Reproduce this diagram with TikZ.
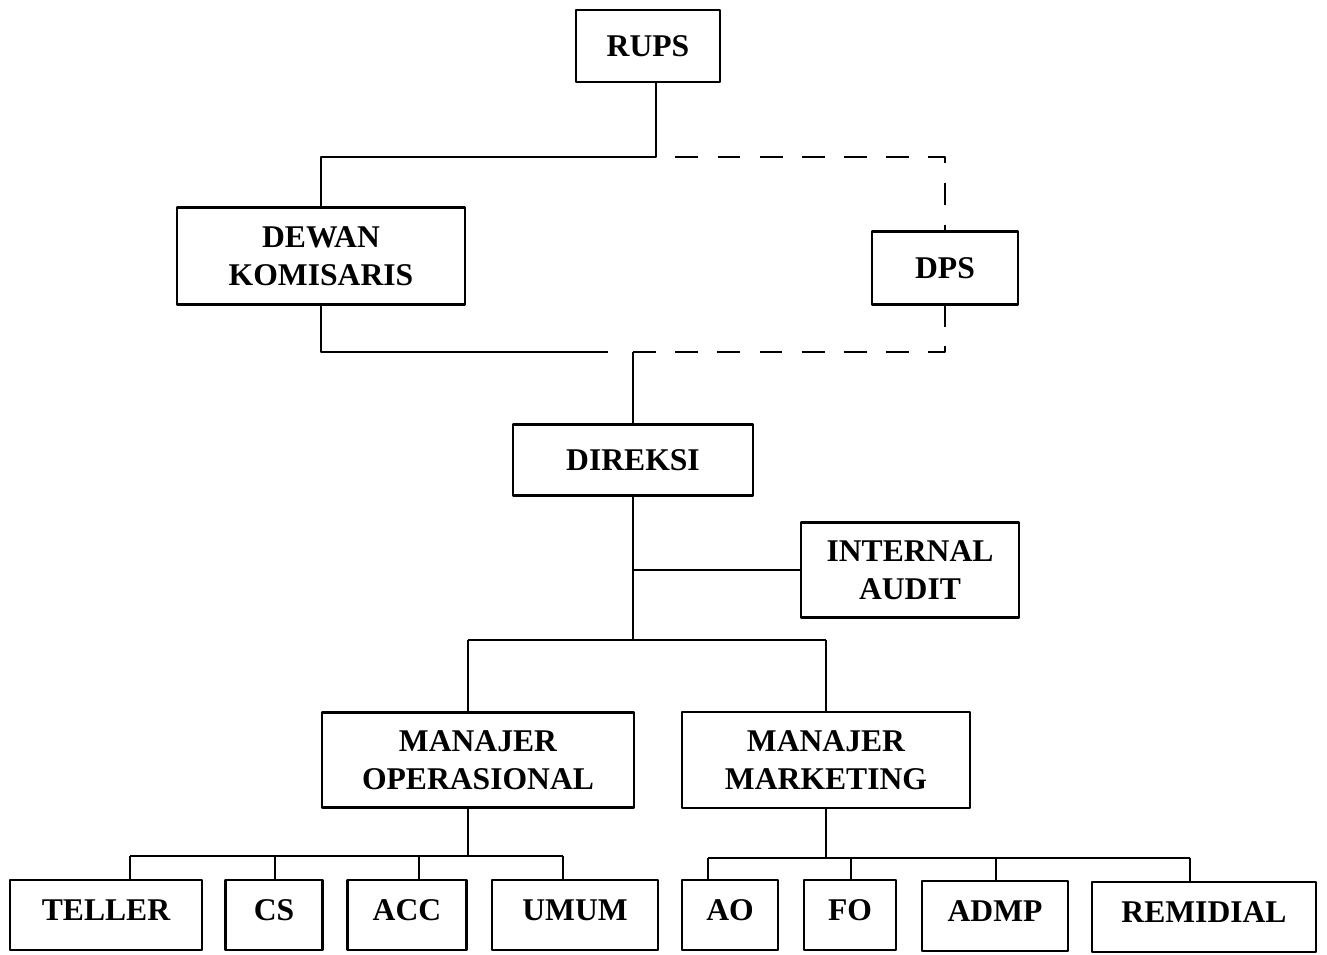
\documentclass[tikz,border=0pt]{standalone}
\usepackage{fontspec}
\setmainfont{Liberation Serif}
\begin{document}
\begin{tikzpicture}[x = 0.02cm, y = -0.02cm, line join = round, font = \fontsize{18}{21.6}\selectfont\bfseries,
	box/.style = {rectangle, draw = black, line width = 1.3pt, anchor = center, align = center, inner sep = 2pt, outer sep = 0pt},
	lowbox/.style = {box, minimum height = 1.4cm, text depth = .2cm},
	conn/.style = {line width = 1pt},
	dashconn/.style = {line width = 1pt, dash pattern = on 13pt off 11pt}]
	%		\draw[gray!50,step = 50] (0,0) grid (1327,954);
	\useasboundingbox (0,0) rectangle (1327,954);
	
	\node[box, minimum width = 2.88cm, minimum height = 1.44cm] (rups) at (648,46) {RUPS};
	\node[box, minimum width = 5.76cm, minimum height = 1.94cm] (dewan) at (321,256) {DEWAN\\KOMISARIS};
	\node[box, minimum width = 2.92cm, minimum height = 1.46cm] (dps) at (945,268) {DPS};
	\node[box, minimum width = 4.8cm, minimum height = 1.42cm] (direksi) at (633,460) {DIREKSI};
	\node[box, minimum width = 4.36cm, minimum height = 1.9cm] (audit) at (910,570) {INTERNAL\\AUDIT};
	\node[box, minimum width = 6.24cm, minimum height = 1.9cm] (mop) at (478,760) {MANAJER\\OPERASIONAL};
	\node[box, minimum width = 5.76cm, minimum height = 1.92cm] (mmkt) at (826,760) {MANAJER\\MARKETING};
	
	\node[lowbox, minimum width = 3.84cm] (teller) at (106,915) {TELLER};
	\node[lowbox, minimum width = 1.94cm] (cs) at (274,915) {CS};
	\node[lowbox, minimum width = 2.38cm] (acc) at (407,915) {ACC};
	\node[lowbox, minimum width = 3.32cm] (umum) at (575,915) {UMUM};
	\node[lowbox, minimum width = 1.92cm] (ao) at (730,915) {AO};
	\node[lowbox, minimum width = 1.84cm] (fo) at (850,915) {FO};
	\node[lowbox, minimum width = 2.92cm] (admp) at (995,916) {ADMP};
	\node[lowbox, minimum width = 4.48cm] (remidial) at (1204,917) {REMIDIAL};
	
	\coordinate (j1) at (656,157);
	\coordinate (j2) at (633,352);
	\coordinate (j3) at (633,640);
	\coordinate (j4) at (468,640);
	\coordinate (j5) at (826,640);
	\coordinate (j6) at (468,856);
	\coordinate (j7) at (826,858);
	
	% rups - dewan / dps
	\draw[conn] (rups.south -| j1) -- (j1) -| (dewan.north);
	\draw[dashconn, dash phase = 13pt] (j1) -| (dps.north);
	% dewan / dps - direksi
	\draw[conn] (dewan.south) |- (608,352);
	\draw[dashconn] (j2) -| (dps.south);
	\draw[conn] (j2) -- (direksi.north);
	% direksi
	\draw[conn] (direksi.south) -- (j3);
	\draw[conn] (direksi.south |- audit.west) -- (audit.west);
	\draw[conn] (j4) -- (j5);
	\draw[conn] (j4) -- (j4 |- mop.north);
	\draw[conn] (j5) -- (mmkt.north);
	% operasional
	\draw[conn] (j6 |- mop.south) -- (j6);
	\draw[conn] (130,856) -- (563,856);
	\foreach \x/\n in {130/teller, 275/cs, 419/acc, 563/umum}
		\draw[conn] (\x,856) -- (\n.north -| \x,856);
	% marketing
	\draw[conn] (mmkt.south) -- (j7);
	\draw[conn] (708,858) -- (1190,858);
	\foreach \x/\n in {708/ao, 851/fo, 996/admp, 1190/remidial}
		\draw[conn] (\x,858) -- (\n.north -| \x,858);
\end{tikzpicture}
\end{document}
